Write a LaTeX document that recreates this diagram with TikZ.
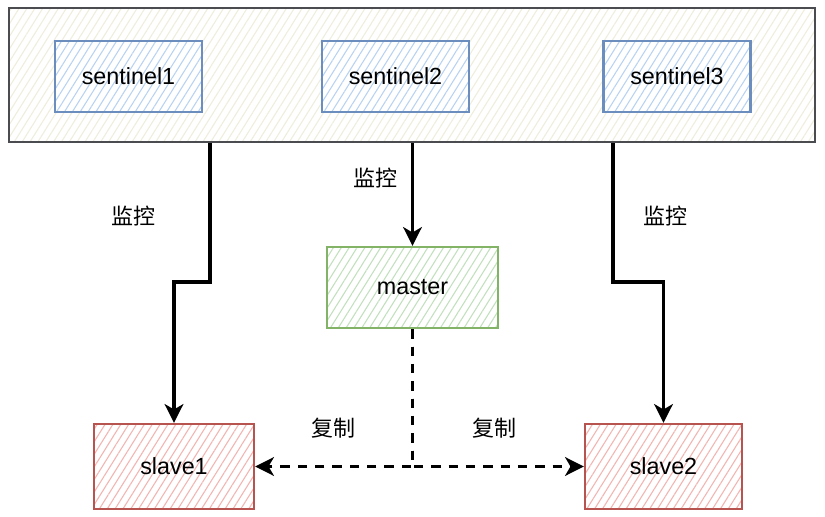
\documentclass[tikz,border=0pt]{standalone}
\usepackage{fontspec}
\setmainfont{Liberation Sans}
\newfontfamily\cjk{Noto Sans CJK SC}
\usetikzlibrary{arrows.meta,patterns.meta}
\definecolor{outerline}{HTML}{4A4C50}
\definecolor{outerhatch}{HTML}{EFEDDC}
\definecolor{blueline}{HTML}{6C8EBF}
\definecolor{bluehatch}{HTML}{B9D2F2}
\definecolor{greenline}{HTML}{82B366}
\definecolor{greenhatch}{HTML}{C2E0BE}
\definecolor{redline}{HTML}{B85450}
\definecolor{redhatch}{HTML}{F2B5B1}
\tikzset{
  hatchbox/.style={draw=#1line, line width=1.8pt, preaction={fill=white},
    pattern={Lines[angle=58,distance=5pt,line width=0.8pt]}, pattern color=#1hatch,
    font=\fontsize{17.5}{20}\selectfont, text=black, inner sep=0pt},
  arr/.style={line width=2.6pt, -{Stealth[length=14pt,width=14pt,inset=4pt]}},
  darr/.style={line width=2.6pt, dash pattern=on 7pt off 6pt, -{Stealth[length=14pt,width=14pt,inset=4pt]}},
  lbl/.style={font=\cjk\fontsize{16.5}{20}\selectfont, text=black, inner sep=0pt}
}
\begin{document}
\begin{tikzpicture}[x=0.75pt,y=-0.75pt]
\useasboundingbox (0,0) rectangle (825,517);
\node[hatchbox=outer, line width=1.9pt, minimum width=604.5pt, minimum height=100.5pt] (outer) at (412,75) {};
\node[hatchbox=blue, minimum width=110.25pt, minimum height=53.25pt] (s1) at (128.5,76.5) {sentinel1};
\node[hatchbox=blue, minimum width=110.25pt, minimum height=53.25pt] (s2) at (395.5,76.5) {sentinel2};
\node[hatchbox=blue, minimum width=110.25pt, minimum height=53.25pt] (s3) at (677,76.5) {sentinel3};
\node[hatchbox=green, minimum width=128.25pt, minimum height=60.75pt] (master) at (412.5,287.5) {master};
\node[hatchbox=red, minimum width=120pt, minimum height=63.75pt] (slave1) at (174,466.5) {slave1};
\node[hatchbox=red, minimum width=117.75pt, minimum height=63.75pt] (slave2) at (663.5,466.5) {slave2};
\draw[arr] (outer.south -| 210,0) -- (210,282) -| (slave1.north);
\draw[arr] (outer.south -| master.north) -- (master.north);
\draw[arr] (outer.south -| 613,0) -- (613,282) -| (slave2.north);
\draw[darr] (master.south) |- (slave1.east);
\draw[darr] (master.south) |- (slave2.west);
\node[lbl] (m1) at (133,216) {监控};
\node[lbl] (m2) at (375,178) {监控};
\node[lbl] (m3) at (665,216) {监控};
\node[lbl] (c1) at (333,428) {复制};
\node[lbl] (c2) at (494,428) {复制};
\end{tikzpicture}
\end{document}
